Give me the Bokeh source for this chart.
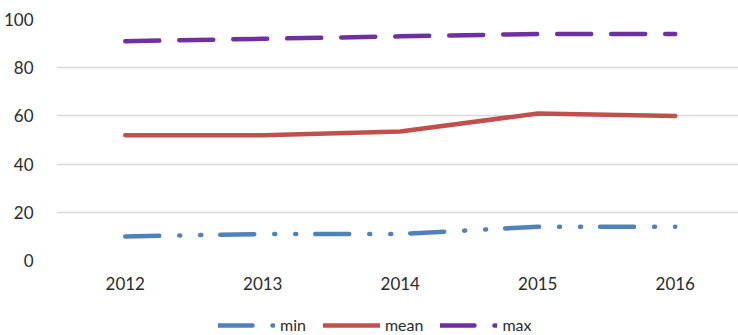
from bokeh.plotting import figure
from bokeh.layouts import column
from bokeh.models import Legend, LegendItem, FixedTicker, Range1d
from bokeh.embed import file_html
from bokeh.resources import INLINE

years = ["2012", "2013", "2014", "2015", "2016"]
min_vals = [10, 11, 11, 14, 14]
mean_vals = [52, 52, 53.5, 61, 60]
max_vals = [91, 92, 93, 94, 94]
y_ticks = [0, 20, 40, 60, 80, 100]

xs = list(range(len(years)))
FONT = "Lato"
TXT = "#2b2b2b"
STYLES = [
    ("min", min_vals, dict(line_color="#4F81BD", line_dash="34 20 1 20 1 19")),
    ("mean", mean_vals, dict(line_color="#C0504D")),
    ("max", max_vals, dict(line_color="#7030A0", line_dash="34 20")),
]

p = figure(width=738, height=300, output_backend="svg", toolbar_location=None,
           x_range=Range1d(-0.5, 4.46), y_range=Range1d(0, 100),
           min_border_left=55, min_border_right=0, min_border_top=19, min_border_bottom=40)
p.outline_line_color = None
p.border_fill_color = "white"

for name, vals, st in STYLES:
    p.line(xs, vals, line_width=4.5, line_cap="round", line_join="round", **st)

p.xaxis.ticker = FixedTicker(ticks=xs)
p.xaxis.major_label_overrides = {i: y for i, y in enumerate(years)}
p.yaxis.ticker = FixedTicker(ticks=y_ticks)
for ax in (p.xaxis, p.yaxis):
    ax.axis_line_color = None
    ax.major_tick_line_color = None
    ax.minor_tick_line_color = None
    ax.major_label_text_font = FONT
    ax.major_label_text_font_size = "17px"
    ax.major_label_text_color = TXT
p.yaxis.major_label_standoff = 17
p.xaxis.major_label_standoff = 10
p.xgrid.grid_line_color = None
p.ygrid.grid_line_color = "#D9D9D9"
p.ygrid.grid_line_width = 1.5

# legend strip below the chart (its lines fall outside the strip's ranges)
lg = figure(width=738, height=35, output_backend="svg", toolbar_location=None,
            x_range=Range1d(-0.5, 4.46), y_range=Range1d(1000, 1001),
            x_axis_type=None, y_axis_type=None,
            min_border_left=55, min_border_right=0, min_border_top=0, min_border_bottom=0)
lg.outline_line_color = None
lg.xgrid.grid_line_color = None
lg.ygrid.grid_line_color = None
items = []
for name, vals, st in STYLES:
    r = lg.line(xs, vals, line_width=4.5, line_cap="round", line_join="round", **st)
    items.append(LegendItem(label=name, renderers=[r]))

legend = Legend(items=items, orientation="horizontal", location=(162, 1),
                label_text_font=FONT, label_text_font_size="16px", label_text_color=TXT,
                glyph_width=57, glyph_height=14, label_standoff=5, spacing=17,
                border_line_color=None, background_fill_alpha=0, padding=0, margin=0)
lg.add_layout(legend, "center")

open("out.html", "w").write(file_html(column(p, lg, spacing=0), INLINE))
